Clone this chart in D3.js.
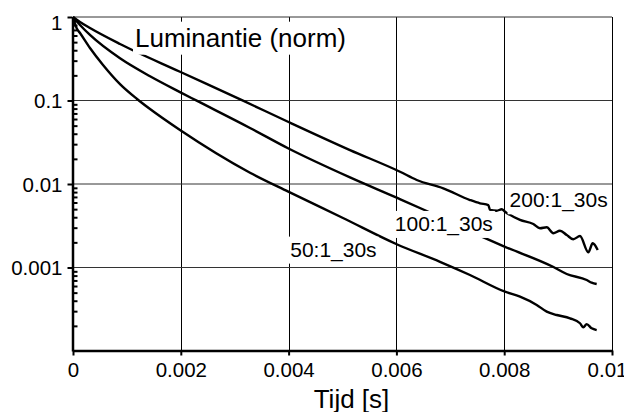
<!DOCTYPE html>
<html>
<head>
<meta charset="utf-8">
<script src="https://cdn.jsdelivr.net/npm/d3@7"></script>
<style>
  body { margin: 0; background: #fff; }
  svg { display: block; }
</style>
</head>
<body>
<svg id="chart" width="624" height="412"></svg>
<script>
// tick values
const xTicks = [0, 0.002, 0.004, 0.006, 0.008, 0.01];
const yTicks = [1, 0.1, 0.01, 0.001];
const yTickLabels = ["1", "0.1", "0.01", "0.001"];

// series, [tijd (s), luminantie (norm)]
const seriesNames = ["200:1_30s", "100:1_30s", "50:1_30s"];
const s200 = [
  [0, 1], [0.00013, 0.871], [0.000315, 0.738], [0.000872, 0.475], [0.001985, 0.221],
  [0.003154, 0.0995], [0.003989, 0.0557], [0.005139, 0.0255], [0.006067, 0.01403],
  [0.006377, 0.01117], [0.00687, 0.00889], [0.007365, 0.00643], [0.007551, 0.00587],
  [0.007705, 0.0056], [0.007737, 0.00489], [0.007861, 0.00479], [0.007954, 0.00498],
  [0.008015, 0.00466], [0.008293, 0.00371], [0.00854, 0.00332], [0.008664, 0.00295],
  [0.008789, 0.00303], [0.008911, 0.00257], [0.009035, 0.00276], [0.00916, 0.00245],
  [0.009282, 0.00218], [0.009406, 0.00238], [0.00956, 0.00152], [0.009642, 0.00195],
  [0.009735, 0.00162]
];
const s100 = [
  [0, 1], [0.00013, 0.802], [0.000315, 0.609], [0.000872, 0.32], [0.001429, 0.195],
  [0.001985, 0.126], [0.002295, 0.0995], [0.003284, 0.0469], [0.003989, 0.0268],
  [0.005139, 0.012], [0.006006, 0.00685], [0.006562, 0.00475], [0.007583, 0.00234],
  [0.008015, 0.00177], [0.008905, 0.00102], [0.00916, 0.000836], [0.009531, 0.000708],
  [0.009623, 0.000658], [0.009716, 0.000634]
];
const s50 = [
  [0, 1], [0.0000686, 0.732], [0.00013, 0.643], [0.000315, 0.425], [0.000557, 0.266],
  [0.000872, 0.157], [0.001182, 0.105], [0.001429, 0.079], [0.001985, 0.0443],
  [0.003284, 0.01365], [0.003994, 0.00809], [0.005009, 0.00392], [0.006006, 0.0019],
  [0.006809, 0.00117], [0.007365, 0.000813], [0.008015, 0.000513], [0.008293, 0.000447],
  [0.008603, 0.000356], [0.008789, 0.000296], [0.008974, 0.00027], [0.009221, 0.000246],
  [0.009406, 0.000215], [0.009468, 0.000192], [0.00953, 0.00021], [0.009623, 0.000187],
  [0.009716, 0.000178]
];
const seriesData = [s200, s100, s50];
// where each series name is written (start of text, baseline)
const labelAt = [[0.0081, 0.00526], [0.00597, 0.00274], [0.00403, 0.00135]];

const font = '"Liberation Sans", Arial, Helvetica, sans-serif';
const svg = d3.select("#chart");

const x = d3.scaleLinear().domain([0, 0.01]).range([73, 612]);
const y = d3.scaleLog().domain([1e-4, 1]).range([351, 17]);
const crisp = v => Math.round(v) + 0.5;

// minor ticks on the log axis (2..9 per decade)
const minorTicks = [];
for (let e = -4; e < 0; e++) {
  for (let k = 2; k <= 9; k++) minorTicks.push(k * Math.pow(10, e));
}

// grid
const grid = svg.append("g");
grid.selectAll("line.v")
  .data(xTicks.slice(1))
  .join("line")
  .attr("x1", d => crisp(x(d))).attr("x2", d => crisp(x(d)))
  .attr("y1", y(1)).attr("y2", y(1e-4))
  .attr("stroke", "#000").attr("stroke-width", 1);
grid.selectAll("line.h")
  .data(yTicks)
  .join("line")
  .attr("x1", x(0)).attr("x2", x(0.01))
  .attr("y1", d => y(d)).attr("y2", d => y(d))
  .attr("stroke", "#333").attr("stroke-width", 1);

// curves
const line = d3.line().x(d => x(d[0])).y(d => y(d[1])).curve(d3.curveMonotoneX);
svg.append("g")
  .selectAll("path")
  .data(seriesData)
  .join("path")
  .attr("d", line)
  .attr("fill", "none")
  .attr("stroke", "#000")
  .attr("stroke-width", 2.4)
  .attr("stroke-linejoin", "round");

// text with white box behind it
function boxedText(g, tx, ty, str, size) {
  const grp = g.append("g");
  const t = grp.append("text")
    .attr("x", tx).attr("y", ty)
    .attr("font-family", font)
    .attr("font-size", size)
    .attr("fill", "#000")
    .text(str);
  const b = t.node().getBBox();
  grp.insert("rect", "text")
    .attr("x", b.x - 2).attr("y", b.y - 1)
    .attr("width", b.width + 4).attr("height", b.height + 3)
    .attr("fill", "#fff");
}

const labels = svg.append("g");
seriesNames.forEach((n, i) => boxedText(labels, x(labelAt[i][0]), y(labelAt[i][1]), n, 21));
boxedText(labels, x(0.00115), y(0.441), "Luminantie (norm)", 26);

// axes
const yAxis = svg.append("g")
  .attr("transform", `translate(${x(0) - 0.5},0)`)
  .call(d3.axisLeft(y).tickValues(yTicks).tickFormat((d, i) => yTickLabels[i])
    .tickSize(5).tickSizeOuter(0).tickPadding(5));
yAxis.select(".domain").attr("stroke-width", 2.5);
yAxis.selectAll(".tick line").attr("stroke-width", 2);
yAxis.selectAll(".tick text")
  .attr("font-family", font).attr("font-size", 20.5)
  .attr("dy", d => d === 1 ? "0.62em" : "0.35em");

const yMinor = svg.append("g")
  .attr("transform", `translate(${x(0) - 0.5},0)`)
  .call(d3.axisRight(y).tickValues(minorTicks).tickFormat("").tickSize(5).tickSizeOuter(0));
yMinor.select(".domain").remove();
yMinor.selectAll(".tick line").attr("stroke-width", 2);

const xAxis = svg.append("g")
  .attr("transform", `translate(0,${y(1e-4) - 0.5})`)
  .call(d3.axisBottom(x).tickValues(xTicks).tickFormat(d => d === 0 ? "0" : d3.format("")(+d.toFixed(3)))
    .tickSize(5).tickSizeOuter(0).tickPadding(7));
xAxis.select(".domain").attr("stroke-width", 2.5);
xAxis.selectAll(".tick line").attr("stroke-width", 2);
xAxis.selectAll(".tick text")
  .attr("font-family", font).attr("font-size", 20.5)
  .attr("dx", d => d === 0.01 ? -5 : 0);

// axis title
svg.append("text")
  .attr("x", (x(0) + x(0.01)) / 2 + 9)
  .attr("y", 408)
  .attr("text-anchor", "middle")
  .attr("font-family", font)
  .attr("font-size", 26)
  .text("Tijd [s]");
</script>
</body>
</html>
